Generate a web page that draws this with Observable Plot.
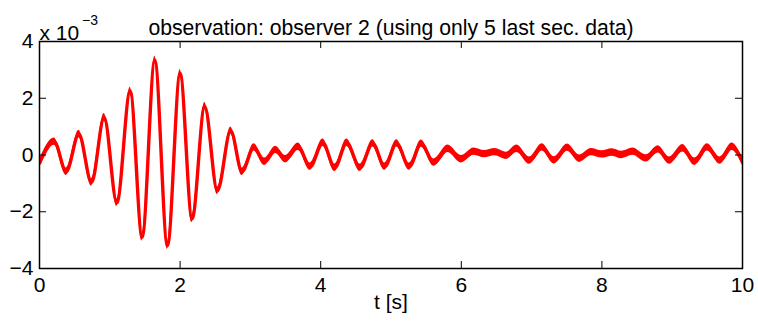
<!DOCTYPE html>
<html>
<head>
<meta charset="utf-8">
<script src="https://cdn.jsdelivr.net/npm/d3@7"></script>
<script src="https://cdn.jsdelivr.net/npm/@observablehq/plot@0.6"></script>
<style>
  html, body { margin: 0; padding: 0; background: #fff; }
  #chart { width: 758px; height: 325px; }
</style>
</head>
<body>
<div id="chart"></div>
<script>
// ---- data (values in units of 1e-3) ----
const tSec = [0.00, 0.21, 0.38, 0.56, 0.74, 0.92, 1.10, 1.29, 1.46, 1.64,
              1.82, 2.00, 2.17, 2.35, 2.53, 2.72, 2.88, 3.05, 3.20, 3.36,
              3.50, 3.68, 3.85, 4.03, 4.20, 4.37, 4.56, 4.74, 4.91, 5.08,
              5.26, 5.43, 5.61, 5.81, 6.00, 6.18, 6.33, 6.48, 6.64, 6.79,
              6.97, 7.15, 7.32, 7.51, 7.68, 7.85, 8.00, 8.15, 8.28, 8.44,
              8.63, 8.80, 8.96, 9.15, 9.32, 9.50, 9.68, 9.85, 10.00];
const obsValue = [-0.29, 0.47, -0.59, 0.74, -0.97, 1.33, -1.68, 2.26, -2.90, 3.35,
                  -3.20, 2.88, -2.25, 1.72, -1.26, 0.86, -0.59, 0.27, -0.24, 0.18,
                  -0.15, 0.29, -0.41, 0.43, -0.45, 0.43, -0.45, 0.41, -0.41, 0.41,
                  -0.41, 0.40, -0.27, 0.22, -0.15, 0.12, 0.03, 0.10, -0.03, 0.22,
                  -0.20, 0.27, -0.19, 0.26, -0.13, 0.10, 0.02, 0.09, 0.00, 0.12,
                  -0.12, 0.20, -0.20, 0.24, -0.24, 0.27, -0.20, 0.29, -0.24];
const noiseHalfWidth = 0.13; // visible high-frequency jitter (±, 1e-3 units)

const xTicks = [0, 2, 4, 6, 8, 10];
const yTicks = [-4, -2, 0, 2, 4];
const titleText = "observation: observer 2 (using only 5 last sec. data)";
const xLabelText = "t [s]";
const multiplierBase = "x 10";
const multiplierExp = "\u22123";

// ---- table for Plot ----
const series = tSec.map((t, i) => ({t, v: obsValue[i]}));

const W = 758, H = 325;
const mL = 39, mR = 16, mT = 41, mB = 57;
const plotW = W - mL - mR, plotH = H - mT - mB;
const tick = 7;
const font = "'Liberation Sans', Arial, Helvetica, sans-serif";

const chart = Plot.plot({
  width: W, height: H,
  marginLeft: mL, marginRight: mR, marginTop: mT, marginBottom: mB,
  x: {domain: [0, 10], label: null},
  y: {domain: [-4, 4], label: null},
  style: {fontFamily: font, fontSize: "21px", color: "#000", background: "#fff", overflow: "visible"},
  marks: [
    Plot.areaY(series, {x: "t", y1: d => d.v - noiseHalfWidth, y2: d => d.v + noiseHalfWidth,
      curve: "monotone-x", fill: "#ff0000", clip: true}),
    Plot.line(series, {x: "t", y: "v", curve: "monotone-x", stroke: "#ff0000", strokeWidth: 3.4, clip: true}),
    // inward ticks, MATLAB style
    Plot.tickX(xTicks, {x: d => d, insetTop: plotH - tick, stroke: "#000", strokeWidth: 1}),
    Plot.tickX(xTicks, {x: d => d, insetBottom: plotH - tick, stroke: "#000", strokeWidth: 1}),
    Plot.tickY(yTicks, {y: d => d, insetRight: plotW - tick, stroke: "#000", strokeWidth: 1}),
    Plot.tickY(yTicks, {y: d => d, insetLeft: plotW - tick, stroke: "#000", strokeWidth: 1}),
    Plot.frame({stroke: "#000", strokeWidth: 1.5}),
    Plot.axisX(xTicks, {tickSize: 0, tickPadding: 9, fontSize: 21, label: null}),
    Plot.axisY(yTicks, {tickSize: 0, tickPadding: 6, fontSize: 21, label: null}),
    Plot.text([titleText], {frameAnchor: "top", dy: -22, fontSize: 21.2, text: d => d}),
    Plot.text([xLabelText], {frameAnchor: "bottom", dy: 40, fontSize: 21, text: d => d}),
    Plot.text([multiplierBase], {frameAnchor: "top-left", textAnchor: "start", dy: -16, fontSize: 21, text: d => d}),
    Plot.text([multiplierExp], {frameAnchor: "top-left", textAnchor: "start", dx: 42.5, dy: -26, fontSize: 14, text: d => d})
  ]
});
document.getElementById("chart").appendChild(chart);
</script>
</body>
</html>
